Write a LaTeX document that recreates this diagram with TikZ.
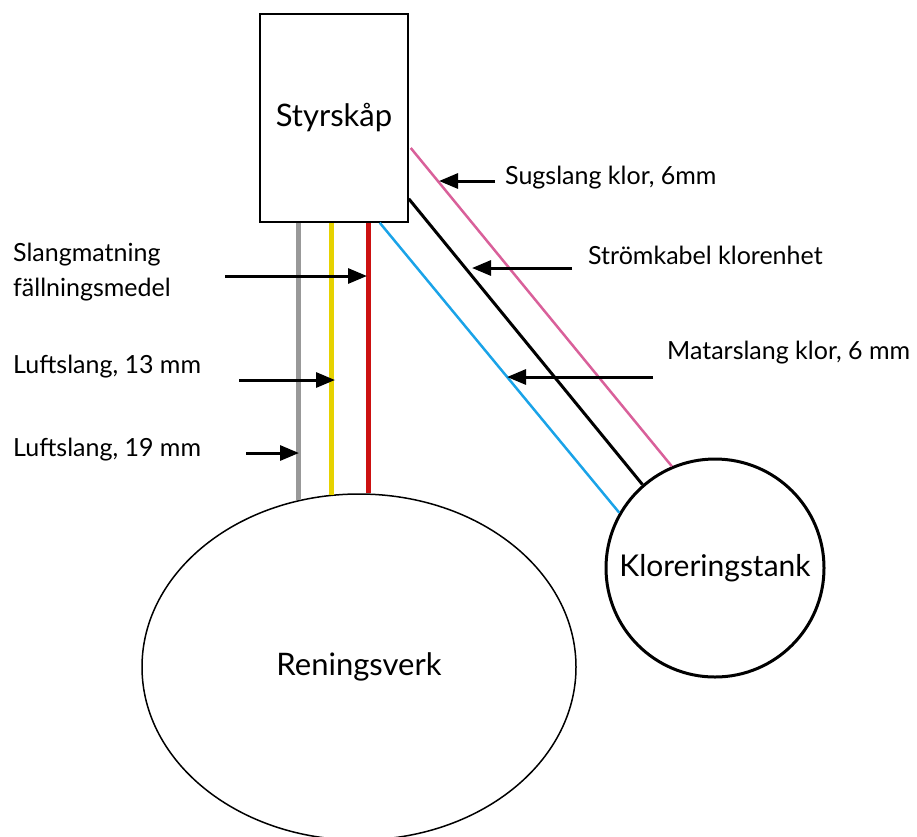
\documentclass[tikz,border=0pt]{standalone}
\usepackage{fontspec}
\setmainfont{Lato}
\usepackage{tikz}
\usetikzlibrary{arrows.meta,shapes.geometric,calc}
\definecolor{slanggra}{HTML}{999999}
\definecolor{slanggul}{HTML}{E6D200}
\definecolor{slangrod}{HTML}{CC1111}
\definecolor{slangbla}{HTML}{1AA3E8}
\definecolor{slangrosa}{HTML}{D9609A}

\begin{document}
\begin{tikzpicture}
		[x=1pt,y=-1pt,
		enhet/.style={draw=black,line width=1.5pt,inner sep=0pt,font=\fontsize{31}{36}\selectfont},
		etikett/.style={anchor=west,inner sep=0pt,align=left,font=\fontsize{25}{35}\selectfont},
		pil/.style={-{Triangle[length=19pt,width=15pt]},line width=3pt},
		ror/.style={line width=5pt},
		kabel/.style={line width=2.5pt}]
		\useasboundingbox (0,0) rectangle (917,836);
		\node at (334,118) (skap) [enhet,rectangle,minimum width=148pt,minimum height=208pt] {Styrskåp};
		\node at (359,667) (verk) [enhet,ellipse,minimum width=434pt,minimum height=346pt] {Reningsverk};
		\node at (715,568) (tank) [enhet,circle,line width=3pt,minimum size=218pt,font=\fontsize{30}{36}\selectfont] {Kloreringstank};
		% ror till reningsverket
		\draw[ror,slanggra] (verk.110 |- skap.south) -- (verk.110);
		\draw[ror,slanggul] (verk.99 |- skap.south) -- (verk.99);
		\draw[ror,slangrod] (verk.87.5 |- skap.south) -- (verk.87.5);
		% slangar till kloreringstanken
		\draw[kabel,slangbla] ($(skap.south east)+(-29,0)$) -- (tank.150.5);
		\draw[kabel,black,line width=3pt] ($(skap.south east)+(0,-24)$) -- (tank.131.5);
		\draw[kabel,slangrosa] ($(skap.east)+(2,30)$) -- (tank.113.5);
		% etiketter
		\node at (505,178) (sug) [etikett] {Sugslang klor, 6mm};
		\node at (588,255) (strom) [etikett] {Strömkabel klorenhet};
		\node at (667,353) (matar) [etikett] {Matarslang klor, 6 mm};
		\node at (13,272) (fall) [etikett] {Slangmatning\\fällningsmedel};
		\node at (13,367) (luft13) [etikett] {Luftslang, 13 mm};
		\node at (13,450) (luft19) [etikett] {Luftslang, 19 mm};
		\coordinate (sugA) at (495,181);   \coordinate (sugB) at (439,181);
		\coordinate (stromA) at (572,268); \coordinate (stromB) at (472,268);
		\coordinate (matarA) at (653,377); \coordinate (matarB) at (507,377);
		\coordinate (fallA) at (225,276);  \coordinate (fallB) at (367,276);
		\coordinate (l13A) at (239,380);   \coordinate (l13B) at (335,380);
		\coordinate (l19A) at (246,453);   \coordinate (l19B) at (299,453);
		\foreach \a in {sug,strom,matar,fall,l13,l19}
			\draw[pil] (\a A) -- (\a B);
	\end{tikzpicture}
\end{document}
